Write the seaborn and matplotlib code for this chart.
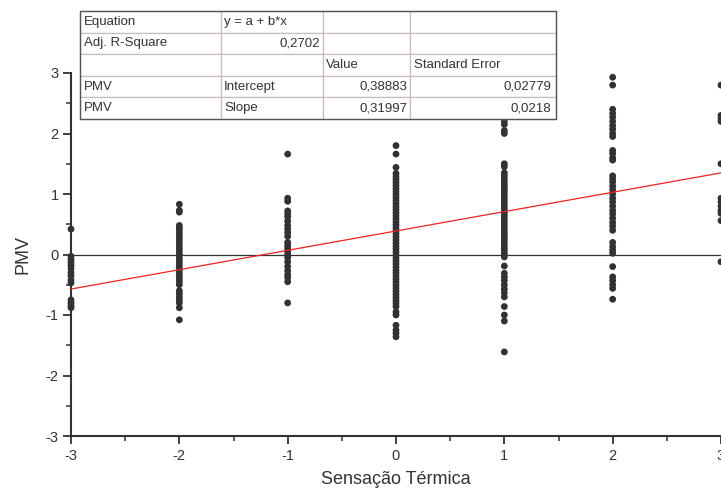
import pandas as pd
import seaborn as sns
import matplotlib.pyplot as plt
from matplotlib.patches import Rectangle
from matplotlib.ticker import MultipleLocator

# =========================================================
#  Data
# =========================================================
pmv_m3 = [0.42, -0.03, -0.08, -0.13, -0.18, -0.23, -0.30, -0.35, -0.42, -0.47,
          -0.75, -0.80, -0.85, -0.88]
pmv_m2 = [0.83, 0.73, 0.70, 0.48, 0.44, 0.40, 0.35, 0.30, 0.25, 0.20, 0.15, 0.10,
          0.05, 0.00, -0.05, -0.10, -0.15, -0.20, -0.25, -0.30, -0.35, -0.40,
          -0.45, -0.50, -0.60, -0.65, -0.70, -0.75, -0.80, -0.88, -1.08]
pmv_m1 = [1.66, 0.93, 0.88, 0.72, 0.67, 0.62, 0.55, 0.48, 0.42, 0.36, 0.30, 0.20,
          0.15, 0.10, 0.05, 0.00, -0.05, -0.12, -0.20, -0.27, -0.33, -0.38,
          -0.45, -0.80]
pmv_0 = [1.80, 1.66, 1.44, 1.34, 1.29, 1.24, 1.19, 1.14, 1.09, 1.04, 0.99, 0.94,
         0.89, 0.84, 0.79, 0.74, 0.69, 0.64, 0.59, 0.54, 0.49, 0.44, 0.39, 0.34,
         0.29, 0.24, 0.19, 0.14, 0.09, 0.04, -0.01, -0.06, -0.11, -0.16, -0.21,
         -0.26, -0.31, -0.36, -0.41, -0.46, -0.51, -0.56, -0.61, -0.66, -0.71,
         -0.76, -0.81, -0.86, -0.95, -1.00, -1.17, -1.25, -1.30, -1.36]
pmv_1 = [2.20, 2.15, 2.05, 2.00, 1.50, 1.45, 1.35, 1.30, 1.25, 1.20, 1.15, 1.10,
         1.05, 1.00, 0.95, 0.90, 0.85, 0.80, 0.75, 0.70, 0.65, 0.60, 0.55, 0.50,
         0.45, 0.40, 0.35, 0.30, 0.25, 0.20, 0.15, 0.10, 0.05, 0.00, -0.04,
         -0.19, -0.31, -0.37, -0.43, -0.50, -0.57, -0.63, -0.70, -0.86, -1.00,
         -1.10, -1.61]
pmv_2 = [2.93, 2.80, 2.40, 2.33, 2.27, 2.20, 2.13, 2.07, 2.00, 1.95, 1.72, 1.67,
         1.60, 1.56, 1.30, 1.25, 1.20, 1.13, 1.07, 1.00, 0.93, 0.87, 0.80, 0.73,
         0.67, 0.60, 0.53, 0.47, 0.40, 0.20, 0.13, 0.07, 0.02, -0.20, -0.37,
         -0.43, -0.50, -0.56, -0.74]
pmv_3 = [2.80, 2.30, 2.25, 2.20, 1.50, 0.93, 0.87, 0.80, 0.73, 0.68, 0.56, -0.12]

sensacao = [-3, -2, -1, 0, 1, 2, 3]
columns = [pmv_m3, pmv_m2, pmv_m1, pmv_0, pmv_1, pmv_2, pmv_3]

intercept = 0.38883
slope = 0.31997

table_rows = [
    ["Equation", "y = a + b*x", "", ""],
    ["Adj. R-Square", "0,2702", "", ""],
    ["", "", "Value", "Standard Error"],
    ["PMV", "Intercept", "0,38883", "0,02779"],
    ["PMV", "Slope", "0,31997", "0,0218"],
]

rows = []
for s, vals in zip(sensacao, columns):
    for v in vals:
        rows.append({'sensacao': s, 'pmv': v})
df = pd.DataFrame(rows)

# =========================================================
#  Plot
# =========================================================
sns.set_theme(style="ticks")
plt.rcParams['font.family'] = ['Liberation Sans', 'DejaVu Sans']
plt.rcParams['axes.unicode_minus'] = False
ink = '#333333'

fig = plt.figure(figsize=(7.21, 4.88), dpi=100)
ax = fig.add_axes([71 / 721, 52 / 488, 650 / 721, 363 / 488])

ax.axhline(0, color=ink, lw=0.9, zorder=1)
sns.scatterplot(data=df, x='sensacao', y='pmv', ax=ax, color='#323236',
                s=24, marker='o', edgecolor='none', zorder=3, clip_on=False)

line_x = [-3, 3]
line_y = [intercept + slope * x for x in line_x]
ax.plot(line_x, line_y, color='#ee2222', lw=0.9, zorder=4)

ax.set_xlim(-3, 3)
ax.set_ylim(-3, 3)
ax.xaxis.set_major_locator(MultipleLocator(1))
ax.xaxis.set_minor_locator(MultipleLocator(0.5))
ax.yaxis.set_major_locator(MultipleLocator(1))
ax.yaxis.set_minor_locator(MultipleLocator(0.5))
ax.tick_params(which='major', length=6, width=1.3, color=ink, labelsize=10.5,
               labelcolor=ink, pad=3)
ax.tick_params(which='minor', length=3.5, width=1.1, color=ink)
sns.despine(ax=ax)
for side in ['left', 'bottom']:
    ax.spines[side].set_color(ink)
    ax.spines[side].set_linewidth(1.5)

ax.set_xlabel('Sensação Térmica', fontsize=13, color=ink, labelpad=6)
ax.set_ylabel('PMV', fontsize=13, color=ink, labelpad=10)

# fit-results table
tb = ax.table(cellText=table_rows, bbox=[9 / 650, 317 / 363, 476 / 650, 108 / 363],
              colWidths=[141, 102, 87, 146], cellLoc='left')
tb.auto_set_font_size(False)
right_cells = [(1, 1), (3, 2), (3, 3), (4, 2), (4, 3)]
for (r, c), cell in tb.get_celld().items():
    cell.set_edgecolor('#c9bcbc')
    cell.set_linewidth(0.9)
    cell.set_facecolor('white')
    cell.get_text().set_fontsize(9.5)
    cell.get_text().set_color(ink)
    cell.PAD = 0.03
    if (r, c) in right_cells:
        cell.get_text().set_horizontalalignment('right')
tb.set_clip_on(False)
tb.set_zorder(6)
ax.add_patch(Rectangle((9 / 650, 317 / 363), 476 / 650, 108 / 363,
                       transform=ax.transAxes, fill=False, edgecolor='#555555',
                       lw=1.0, clip_on=False, zorder=7))

plt.savefig('out.png', dpi=100)
